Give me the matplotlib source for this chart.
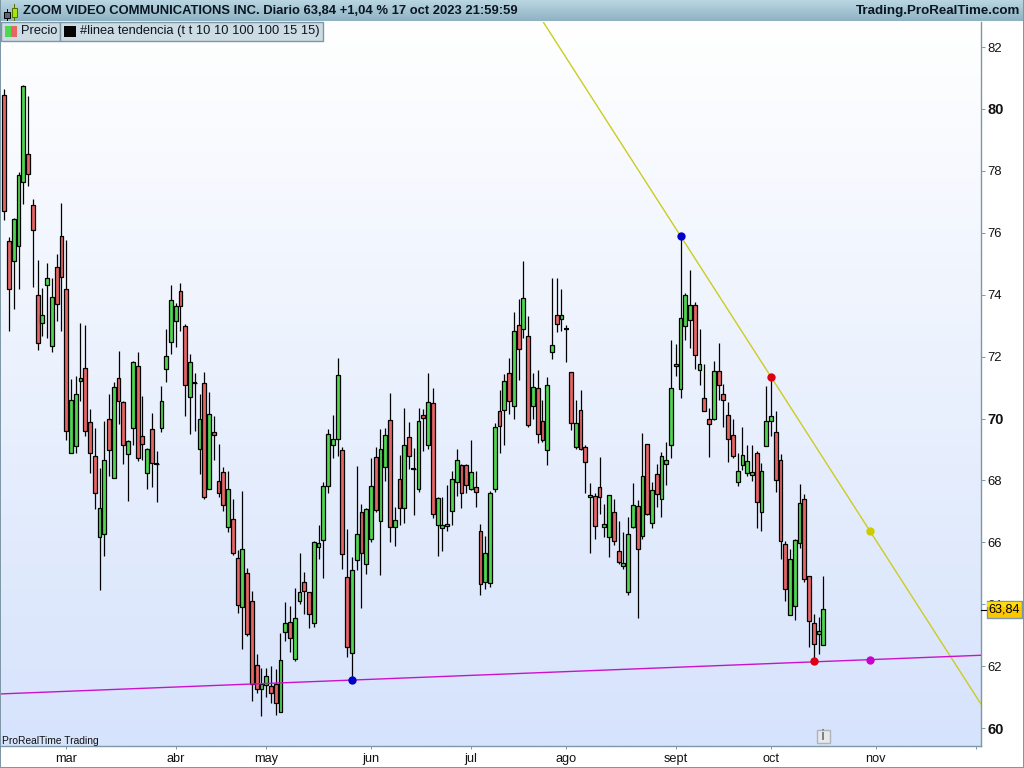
import numpy as np
import matplotlib
matplotlib.use("Agg")
import matplotlib.pyplot as plt
from matplotlib.colors import LinearSegmentedColormap
from matplotlib.patches import Rectangle

opens = [80.44,75.73,75.08,75.58,77.63,78.56,76.89,73.98,73.07,74.32,
 72.35,74.88,75.91,74.17,68.88,69.10,71.20,71.62,69.88,68.78,
 66.16,66.28,69.97,68.07,71.30,70.52,68.84,69.68,71.69,69.42,
 68.23,69.65,68.54,69.68,71.59,72.46,73.14,74.11,72.98,70.68,
 71.14,69.00,71.14,67.71,69.55,67.97,68.26,66.48,66.74,65.48,
 63.90,65.00,64.12,62.03,61.25,61.38,61.35,61.41,60.51,63.09,
 63.42,62.22,64.12,64.71,64.38,63.38,65.84,66.06,67.81,69.13,
 69.33,68.97,64.87,62.41,65.42,66.97,65.31,66.12,68.75,66.70,
 68.42,69.94,66.48,68.03,67.10,69.39,68.38,67.71,70.10,69.16,
 70.49,66.55,66.45,66.52,67.00,67.94,68.51,68.49,67.71,67.78,
 66.35,64.71,64.67,67.71,70.23,70.26,71.46,70.42,73.01,72.88,
 72.66,70.39,70.98,69.91,68.97,72.14,73.33,73.23,72.90,71.49,
 69.07,70.26,69.07,67.45,67.49,67.78,66.51,66.16,66.97,65.71,
 65.25,64.41,66.51,67.16,66.22,69.17,66.63,68.20,67.39,68.52,
 69.13,71.75,70.95,72.98,73.17,73.66,71.56,70.65,70.00,70.00,
 71.53,70.78,70.10,69.46,67.96,68.49,68.23,68.16,68.90,66.97,
 69.10,69.91,69.55,68.65,65.94,63.64,63.93,65.97,67.39,64.90,
 63.38,63.03,62.68]
closes = [76.71,74.17,76.44,77.86,80.73,77.89,76.08,72.43,73.35,74.53,
 73.92,73.69,74.56,69.59,70.59,70.78,71.30,69.61,68.88,67.58,
 67.10,68.65,68.97,71.01,70.56,69.16,69.26,71.81,68.71,69.17,
 69.00,68.55,68.54,70.56,72.01,73.82,73.62,73.62,71.07,71.81,
 71.14,69.97,67.45,70.13,69.46,67.58,67.22,67.71,65.67,63.96,
 65.77,63.03,61.41,61.25,61.41,61.67,61.14,60.80,62.19,63.38,
 62.90,63.54,64.41,64.42,63.67,66.00,65.97,67.81,69.49,69.33,
 71.39,65.61,62.61,65.09,66.26,65.64,67.09,67.81,67.06,69.00,
 69.46,66.48,66.71,67.10,69.16,68.78,68.38,69.91,70.02,70.52,
 66.90,67.42,66.57,66.58,68.03,68.65,67.58,67.84,68.26,67.62,
 64.66,65.64,67.58,69.71,69.77,71.20,70.56,72.82,72.24,73.88,
 69.78,71.01,69.49,69.30,71.07,72.36,73.04,73.33,72.90,69.87,
 69.87,69.03,68.61,67.52,66.52,67.45,66.58,67.52,66.03,65.35,
 65.32,66.26,67.22,65.80,68.13,66.93,67.68,67.55,68.78,68.65,
 71.00,71.69,73.24,73.98,73.66,72.04,71.75,70.23,69.81,71.53,
 71.07,70.59,69.33,68.78,68.29,68.81,68.62,68.26,67.29,68.29,
 69.91,70.07,68.00,66.03,64.48,65.45,66.07,67.26,64.80,63.45,
 62.73,63.15,63.84]
highs = [80.65,75.85,76.48,77.95,80.78,80.42,77.08,75.12,74.21,75.02,
 74.53,75.33,76.96,75.77,71.27,71.36,73.08,73.02,70.31,69.69,
 68.39,69.91,70.78,71.18,72.18,70.57,69.31,71.85,72.14,70.73,
 69.04,70.17,68.95,71.05,72.89,74.31,73.73,74.37,73.04,72.08,
 71.46,70.78,71.49,70.86,70.08,69.18,68.43,68.32,67.40,65.75,
 67.66,65.16,64.44,62.39,61.93,61.93,62.00,61.90,63.06,64.07,
 63.94,64.52,65.64,65.03,64.38,66.04,66.55,67.95,69.66,70.11,
 71.94,69.07,66.42,65.51,68.46,67.24,67.12,68.72,69.07,69.65,
 69.68,70.81,67.13,68.81,70.33,69.88,69.05,70.33,70.30,71.46,
 70.98,67.45,67.45,67.85,68.32,69.03,68.52,68.52,69.31,68.32,
 66.59,66.20,67.65,69.84,70.92,71.43,71.95,73.44,73.85,75.09,
 73.31,71.47,71.56,70.60,71.34,74.53,74.53,74.18,73.01,71.49,
 70.60,70.92,69.16,67.92,67.59,68.76,67.24,67.52,67.40,66.69,
 66.33,66.82,67.92,67.37,69.52,69.17,67.95,68.52,68.91,69.23,
 72.53,72.40,75.90,74.05,74.79,73.75,72.88,71.75,70.33,71.85,
 72.43,71.10,70.52,70.00,68.88,69.71,69.14,69.14,68.94,68.55,
 71.04,71.34,70.23,68.84,66.03,65.77,66.10,67.87,67.55,64.91,
 63.67,63.59,64.91]
lows = [76.41,72.84,73.55,74.19,76.94,77.52,74.26,72.22,72.67,72.60,
 72.15,73.15,72.84,69.31,68.87,68.89,70.57,69.43,68.24,67.08,
 64.46,65.56,68.14,68.07,69.82,68.53,67.33,69.14,68.64,68.66,
 67.72,67.79,67.31,69.56,71.18,72.08,72.31,72.83,70.08,69.50,
 69.61,68.21,67.40,67.71,68.66,67.46,67.01,66.33,65.59,63.73,
 62.55,62.98,60.87,61.14,60.39,61.01,60.82,60.43,60.51,62.82,
 62.46,62.17,64.00,63.68,63.23,63.27,65.46,64.86,67.59,68.73,
 68.80,65.14,62.30,61.55,65.10,63.89,64.99,66.00,66.98,64.94,
 67.98,66.01,65.89,66.56,66.63,68.37,66.88,67.61,68.95,69.01,
 66.79,65.56,65.72,66.36,66.56,67.50,67.11,67.59,67.69,67.14,
 64.30,64.49,64.56,67.64,68.90,69.14,70.15,69.98,71.24,72.60,
 69.74,69.98,69.21,69.24,68.50,71.92,72.79,72.83,71.82,69.63,
 69.01,68.99,67.59,65.65,66.10,66.91,66.17,65.53,65.91,65.30,
 65.14,64.30,66.46,63.54,66.11,66.88,66.46,67.15,66.83,67.85,
 68.72,71.38,70.67,72.53,72.28,71.60,71.08,70.23,68.76,69.95,
 70.60,69.73,68.60,68.72,67.82,68.34,68.14,67.98,66.46,66.36,
 69.10,69.43,67.62,65.46,64.10,63.64,63.49,65.82,64.72,62.62,
 62.16,62.39,62.68]

month_idx = [13, 36, 55, 77, 98, 118, 141, 161, 183, 204]
month_labels = ["mar", "abr", "may", "jun", "jul", "ago", "sept", "oct", "nov", ""]
price_ticks = [60, 62, 64, 66, 68, 70, 72, 74, 76, 78, 80, 82]
bold_ticks = [60, 70, 80]
last_price = 63.84

down_x = [142, 181.8]
down_y = [75.90, 66.36]
up_x = [73, 181.8]
up_y = [61.55, 62.21]
blue_x, blue_y = [73, 142], [61.55, 75.90]
red_x, red_y = [161, 170], [71.34, 62.16]
yellow_pt = (181.8, 66.36)
magenta_pt = (181.8, 62.21)

W, H = 1024, 768
FONT = "Liberation Sans"
plt.rcParams["font.family"] = [FONT, "DejaVu Sans"]
fig = plt.figure(figsize=(W / 100, H / 100), dpi=100, facecolor="white")
fx = lambda px: px / W
fy = lambda py: 1 - py / H
BORDER = "#7d97a6"

# main axes
ax = fig.add_axes([fx(1), fy(746), fx(981) - fx(1), fy(22) - fy(746)])
bg = LinearSegmentedColormap.from_list("bg", ["#ffffff", "#d6e3fc"])
ax.imshow(np.linspace(0, 1, 256).reshape(-1, 1), cmap=bg, aspect="auto",
          extent=[0, 1, 0, 1], transform=ax.transAxes, zorder=0)

x = np.arange(len(opens))
o, c, h, l = map(np.array, (opens, closes, highs, lows))
up = c >= o
ax.vlines(x, l, h, color="black", lw=0.9, zorder=2)
tops, bots = np.maximum(o, c), np.minimum(o, c)
cols = np.where(up, "#4fd84f", "#e86565")
ax.bar(x, tops - bots, bottom=bots, width=0.80, color=cols, edgecolor="black",
       linewidth=0.9, zorder=3)
doji = o == c
ax.hlines(o[doji], x[doji] - 0.5, x[doji] + 0.5, color="black", lw=1.5, zorder=3)

ax.axline((down_x[0], down_y[0]), (down_x[1], down_y[1]), color="#cccc22", lw=1.0, zorder=4)
ax.axline((up_x[0], up_y[0]), (up_x[1], up_y[1]), color="#cc11cc", lw=1.0, zorder=4)
ms = 6
ax.plot(blue_x, blue_y, "o", color="#0000cc", ms=ms, mew=0, zorder=5)
ax.plot(red_x, red_y, "o", color="#dd0011", ms=ms, mew=0, zorder=5)
ax.plot(*yellow_pt, "o", color="#cccc00", ms=ms, mew=0, zorder=5)
ax.plot(*magenta_pt, "o", color="#cc00cc", ms=ms, mew=0, zorder=5)

ax.set_xlim(-0.69, 205.1)
ax.set_ylim(59.42, 82.81)
ax.yaxis.tick_right()
ax.set_yticks(price_ticks)
ax.set_yticklabels([str(t) for t in price_ticks], fontsize=9.4, color="#111111")
for lab, t in zip(ax.get_yticklabels(), price_ticks):
    if t in bold_ticks:
        lab.set_fontweight("bold")
        lab.set_fontsize(10.5)
ax.set_xticks(month_idx)
ax.set_xticklabels(month_labels, fontsize=9.2, color="#111111")
ax.tick_params(axis="y", length=3, width=0.7, color=BORDER, pad=1.5)
ax.tick_params(axis="x", length=2.2, width=0.7, color=BORDER, pad=3)
for side in ("top", "left"):
    ax.spines[side].set_visible(False)
for side in ("right", "bottom"):
    ax.spines[side].set_color(BORDER)
    ax.spines[side].set_linewidth(1.0)

ax.text(0.0015, 0.0005, "ProRealTime Trading", transform=ax.transAxes, fontsize=7.4,
        color="#111111", va="bottom", ha="left", zorder=6)

# title bar
bar = fig.add_axes([0, fy(21), 1, fy(0) - fy(21)], zorder=5)
bar.imshow(np.linspace(0, 1, 64).reshape(-1, 1), aspect="auto",
           cmap=LinearSegmentedColormap.from_list("t", ["#b9d6e2", "#8fb2c3"]))
bar.axis("off")

def rect(x0, y0, x1, y1, fc, ec="none", lw=0.7, z=6):
    fig.add_artist(Rectangle((fx(x0), fy(y1)), fx(x1 - x0), (y1 - y0) / H, facecolor=fc,
                             edgecolor=ec, linewidth=lw, transform=fig.transFigure, zorder=z))

def txt(px, py, s, **kw):
    kw.setdefault("va", "center")
    kw.setdefault("ha", "left")
    kw.setdefault("color", "#0b1622")
    fig.text(fx(px), fy(py), s, zorder=8, **kw)

txt(23, 11, "ZOOM VIDEO COMMUNICATIONS INC. Diario 63,84 +1,04 % 17 oct 2023 21:59:59",
    fontsize=9.35, fontweight="bold")
txt(1020, 11, "Trading.ProRealTime.com", fontsize=9.6, fontweight="bold", ha="right")

# title icon
fig.add_artist(plt.Line2D([fx(6.5), fx(6.5)], [fy(9), fy(20)], color="black", lw=0.7, zorder=6))
rect(3.5, 12, 9.5, 18, "#5a6672", "black")
fig.add_artist(plt.Line2D([fx(14), fx(14)], [fy(4), fy(20)], color="#556b00", lw=0.7, zorder=6))
rect(11.5, 7.5, 16.5, 17, "#a6e60a", "#556b00")

# legend boxes
LEG = "#cddbe3"
rect(0.5, 22, 59.5, 40.5, LEG, BORDER, 1.0)
rect(59.5, 22, 322.5, 40.5, LEG, BORDER, 1.0)
rect(5, 26, 11, 37, "#4fd84f")
rect(11, 26, 17, 37, "#e86565")
rect(64, 26, 76, 37, "#050505")
txt(21, 31, "Precio", fontsize=9.3)
txt(80, 31, "#linea tendencia (t t 10 10 100 100 15 15)", fontsize=9.3)

# price tag
rect(986.5, 601, 1021.5, 618, "#fbc800", BORDER, 1.0)
rect(987, 601.5, 1021, 607, "#ffdc10")
fig.add_artist(plt.Line2D([fx(981), fx(986)], [fy(610), fy(610)], color="black", lw=0.8, zorder=6))
txt(1004, 610, "63,84", fontsize=9.2, ha="center", color="black")

# info icon
rect(816.5, 729.5, 829.5, 742.5, "#e6e8ea", "#b0b4b8", 1.0)
txt(823, 736, "i", fontsize=10.5, fontweight="bold", ha="center", color="#7c8288")

# outer frame
rect(0, 0, 1.2, 768, BORDER)
rect(1022.8, 0, 1024, 768, BORDER)
rect(0, 766.8, 1024, 768, BORDER)

fig.savefig("out.png", dpi=100)
